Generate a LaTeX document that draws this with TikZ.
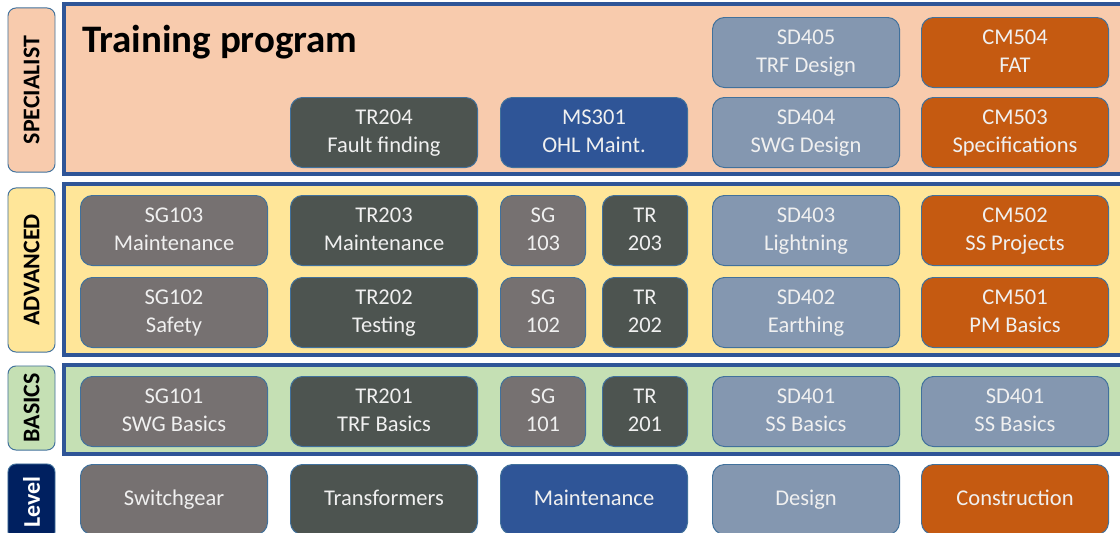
\documentclass[tikz,border=0pt]{standalone}
\usepackage{fontspec}
\setmainfont{Carlito}
\definecolor{sgcol}{HTML}{767171}
\definecolor{trcol}{HTML}{4D5450}
\definecolor{mscol}{HTML}{2F5597}
\definecolor{sdcol}{HTML}{8497B0}
\definecolor{cmcol}{HTML}{C55A11}
\definecolor{specfill}{HTML}{F8CBAD}
\definecolor{advfill}{HTML}{FFE699}
\definecolor{basfill}{HTML}{C5E0B4}
\definecolor{levcol}{HTML}{002060}
\definecolor{framecol}{HTML}{2F5597}
\definecolor{boxline}{HTML}{41719C}
\newcommand{\twoline}[2]{\strut#1\\#2\strut}
\begin{document}
\begin{tikzpicture}[
      x=0.025cm,y=-0.025cm,
      panel/.style={
        draw=framecol,line width=2.2pt
      },
      course/.style={
        draw=boxline,line width=0.7pt,rounded corners=0.3cm,
        minimum width=4.675cm,minimum height=1.75cm,inner sep=0pt,
        anchor=north west,align=center,text=white!94!black,
        font=\fontsize{16}{20}\selectfont
      },
      short/.style={course,minimum width=2.125cm},
      tier/.style={
        draw=boxline,line width=0.7pt,rounded corners=0.2cm,
        rotate=90,minimum height=1.175cm,inner sep=0pt,
        font=\bfseries\fontsize{17}{20}\selectfont
      },
    ]
    \useasboundingbox (0,0) rectangle (1120,533);
    \clip (0,0) rectangle (1120,533);
    \draw[panel,fill=specfill] (64,4) rectangle (1135,174);
    \draw[panel,fill=advfill] (64,184) rectangle (1135,355);
    \draw[panel,fill=basfill] (64,365) rectangle (1135,454);
    \node[tier,fill=specfill,minimum width=4.1cm] (spec) at (31.5,90) {SPECIALIST};
    \node[tier,fill=advfill,minimum width=4.1cm] (adv) at (31.5,270) {ADVANCED};
    \node[tier,fill=basfill,minimum width=2.1cm] (bas) at (31.5,408) {BASICS};
    \node[tier,fill=levcol,text=white,minimum width=1.9cm] (lev) at (31.5,502) {Level};
    \node[anchor=base west,inner sep=0pt,font=\bfseries\fontsize{27.7}{30}\selectfont] (title) at (82,52) {Training program};
    \node[course,fill=sdcol] (sd405) at (712,17) {\twoline{SD405}{TRF Design}};
    \node[course,fill=cmcol] (cm504) at (921,17) {\twoline{CM504}{FAT}};
    \node[course,fill=trcol] (tr204) at (290,97) {\twoline{TR204}{Fault finding}};
    \node[course,fill=mscol] (ms301) at (500,97) {\twoline{MS301}{OHL Maint.}};
    \node[course,fill=sdcol] (sd404) at (712,97) {\twoline{SD404}{SWG Design}};
    \node[course,fill=cmcol] (cm503) at (921,97) {\twoline{CM503}{Specifications}};
    \node[course,fill=sgcol] (sg103) at (80,195) {\twoline{SG103}{Maintenance}};
    \node[course,fill=trcol] (tr203) at (290,195) {\twoline{TR203}{Maintenance}};
    \node[short,fill=sgcol] (sg103s) at (500,195) {\twoline{SG}{103}};
    \node[short,fill=trcol] (tr203s) at (602,195) {\twoline{TR}{203}};
    \node[course,fill=sdcol] (sd403) at (712,195) {\twoline{SD403}{Lightning}};
    \node[course,fill=cmcol] (cm502) at (921,195) {\twoline{CM502}{SS Projects}};
    \node[course,fill=sgcol] (sg102) at (80,277) {\twoline{SG102}{Safety}};
    \node[course,fill=trcol] (tr202) at (290,277) {\twoline{TR202}{Testing}};
    \node[short,fill=sgcol] (sg102s) at (500,277) {\twoline{SG}{102}};
    \node[short,fill=trcol] (tr202s) at (602,277) {\twoline{TR}{202}};
    \node[course,fill=sdcol] (sd402) at (712,277) {\twoline{SD402}{Earthing}};
    \node[course,fill=cmcol] (cm501) at (921,277) {\twoline{CM501}{PM Basics}};
    \node[course,fill=sgcol] (sg101) at (80,376) {\twoline{SG101}{SWG Basics}};
    \node[course,fill=trcol] (tr201) at (290,376) {\twoline{TR201}{TRF Basics}};
    \node[short,fill=sgcol] (sg101s) at (500,376) {\twoline{SG}{101}};
    \node[short,fill=trcol] (tr201s) at (602,376) {\twoline{TR}{201}};
    \node[course,fill=sdcol] (sd401) at (712,376) {\twoline{SD401}{SS Basics}};
    \node[course,fill=sdcol] (sd401b) at (921,376) {\twoline{SD401}{SS Basics}};
    \node[course,fill=sgcol] (swg) at (80,464) {\strut Switchgear};
    \node[course,fill=trcol] (trf) at (290,464) {\strut Transformers};
    \node[course,fill=mscol] (mnt) at (500,464) {\strut Maintenance};
    \node[course,fill=sdcol] (dsg) at (712,464) {\strut Design};
    \node[course,fill=cmcol] (con) at (921,464) {\strut Construction};
  \end{tikzpicture}
\end{document}
